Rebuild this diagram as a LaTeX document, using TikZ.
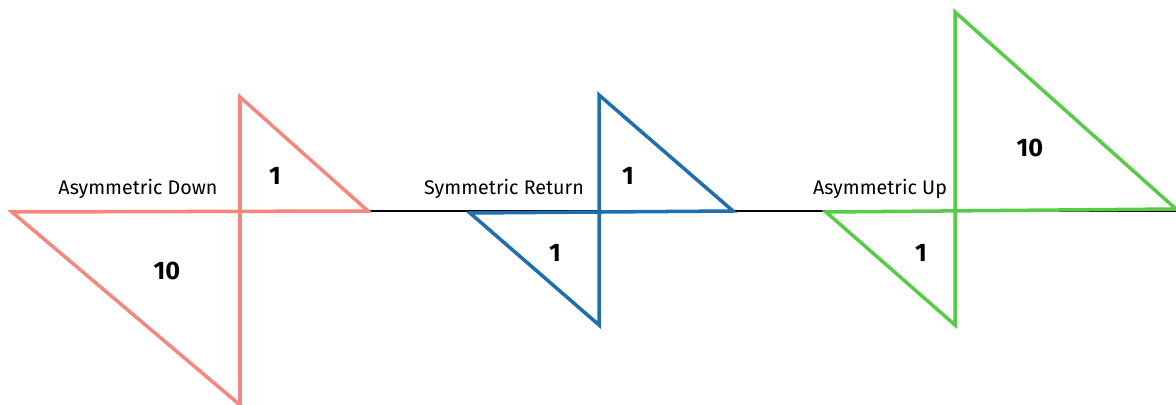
\documentclass[tikz,border=0pt]{standalone}
\usepackage{fontspec}
\setmainfont{Fira Sans}
\usetikzlibrary{positioning}
\definecolor{downred}{HTML}{F4877E}
\definecolor{returnblue}{HTML}{1F6EAE}
\definecolor{upgreen}{HTML}{58CC48}
\tikzset{
    axis/.style = {draw=black, line width=1.1pt},
    wave/.style = {line width=2.5pt, line join=miter},
    caption/.style = {font=\fontsize{14}{16}\selectfont, anchor=base, inner sep=0pt},
    weight/.style = {font=\fontsize{18}{21}\selectfont\bfseries, inner sep=0pt}
}

\begin{document}
\begin{tikzpicture}[x=0.025cm, y=-0.025cm]
    \useasboundingbox (0,0) rectangle (1176,405);
    % Eje
    \coordinate (a0) at (12,211);
    \coordinate (a1) at (1176,211);
    \draw [axis] (a0) -- (a1);

    % Asymmetric Down
    \coordinate (dtop) at (240,97);
    \coordinate (dright) at (368,211);
    \coordinate (dleft) at (12,212);
    \coordinate (dbot) at (240,405);
    \draw [wave, downred] (dtop) -- (dright) -- (dleft) -- (dbot) -- cycle;
    \node (dcap) [caption] at (138,195) {Asymmetric Down};
    \node (dup) [weight] at (275,176) {1};
    \node (dlow) [weight] at (167,271) {10};

    % Symmetric Return
    \coordinate (rtop) at (599,95);
    \coordinate (rright) at (733,211);
    \coordinate (rleft) at (470,213);
    \coordinate (rbot) at (599,325);
    \draw [wave, returnblue] (rtop) -- (rright) -- (rleft) -- (rbot) -- cycle;
    \node (rcap) [caption] at (504,195) {Symmetric Return};
    \node (rup) [weight] at (628,176) {1};
    \node (rlow) [weight] at (555,253) {1};

    % Asymmetric Up
    \coordinate (utop) at (955,12);
    \coordinate (uright) at (1176,209);
    \coordinate (uleft) at (826,212);
    \coordinate (ubot) at (955,325);
    \draw [wave, upgreen] (utop) -- (uright) -- (uleft) -- (ubot) -- cycle;
    \node (ucap) [caption] at (880,195) {Asymmetric Up};
    \node (uup) [weight] at (1030,148) {10};
    \node (ulow) [weight] at (921,253) {1};
\end{tikzpicture}
\end{document}
